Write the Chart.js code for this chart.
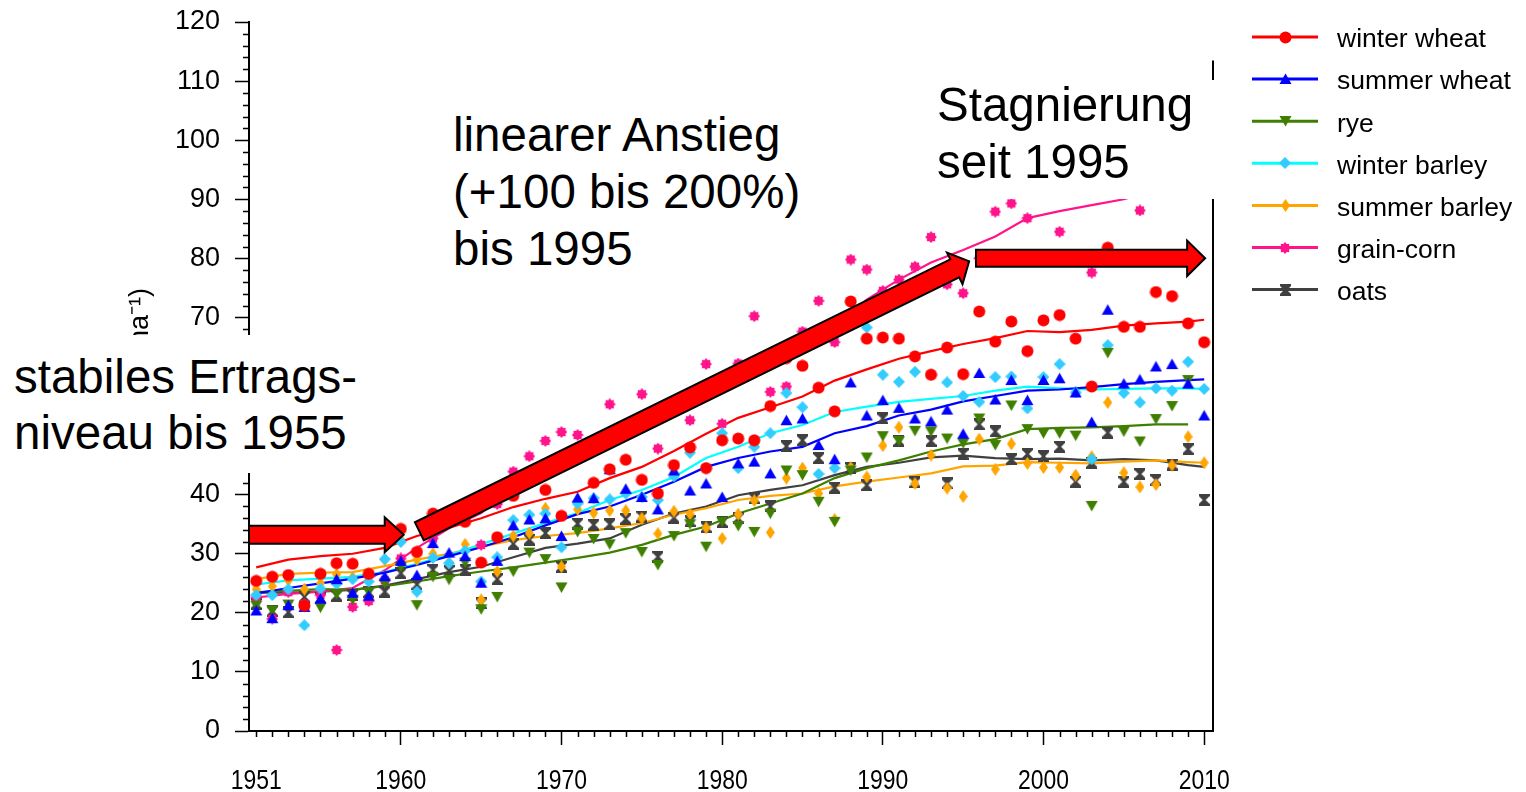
<!DOCTYPE html>
<html>
<head>
<meta charset="utf-8">
<title>Getreideerträge 1951-2010</title>
<script src="https://cdn.jsdelivr.net/npm/chart.js@4.4.1/dist/chart.umd.min.js"></script>
<style>
  html, body { margin: 0; padding: 0; background: #fff; }
  #wrap { position: relative; width: 1526px; height: 792px; overflow: hidden; }
  #chart { position: absolute; left: 0; top: 0; }
  .note {
    position: absolute; box-sizing: border-box; background: #fff; color: #000;
    font-family: 'Liberation Sans', Arial, sans-serif; font-size: 47.5px;
    white-space: nowrap;
  }
  .note .lift { position: relative; top: -4px; }
</style>
</head>
<body>
<div id="wrap">
  <canvas id="chart" width="1526" height="792"></canvas>
  <div class="note" style="left:0;top:335px;width:366px;height:138px;padding:14px 0 0 14px;line-height:56px;">stabiles Ertrags-<br>niveau bis 1955</div>
  <div class="note" style="left:445px;top:95px;width:370px;height:185px;padding:11px 0 0 8px;line-height:57px;">linearer Anstieg<br>(+100 bis 200%)<br>bis 1995</div>
  <div class="note" style="left:925px;top:80px;width:296px;height:119px;padding:0 0 0 12px;line-height:57px;"><div class="lift">Stagnierung<br>seit 1995</div></div>
</div>
<script>
// yields in dt/ha, one value per harvest year
const years = [
  1951, 1952, 1953, 1954, 1955, 1956, 1957, 1958, 1959, 1960,
  1961, 1962, 1963, 1964, 1965, 1966, 1967, 1968, 1969, 1970,
  1971, 1972, 1973, 1974, 1975, 1976, 1977, 1978, 1979, 1980,
  1981, 1982, 1983, 1984, 1985, 1986, 1987, 1988, 1989, 1990,
  1991, 1992, 1993, 1994, 1995, 1996, 1997, 1998, 1999, 2000,
  2001, 2002, 2003, 2004, 2005, 2006, 2007, 2008, 2009, 2010
];

const winterWheat = [
  25.4, 26.1, 26.4, 21.2, 26.6, 28.4, 28.3, 26.6, 33.0, 34.2,
  30.3, 36.8, 36.3, 35.4, 28.5, 32.8, 39.8, 43.0, 40.8, 36.4,
  47.0, 42.0, 44.3, 45.9, 42.5, 40.2, 45.0, 48.0, 44.5, 49.2,
  49.5, 49.2, 55.0, 63.1, 61.8, 58.1, 54.1, 72.7, 66.4, 66.6,
  66.4, 63.4, 60.3, 64.9, 60.4, 71.0, 65.9, 69.3, 64.3, 69.5,
  70.4, 66.4, 58.3, 81.8, 68.4, 68.4, 74.3, 73.6, 69.0, 65.8
];
const summerWheat = [
  20.4, 19.1, 21.3, 21.0, 22.4, 25.7, 23.4, 22.9, 26.2, 28.8,
  26.4, 31.8, 30.2, 29.6, 25.1, 28.8, 34.8, 35.8, 36.0, 33.0,
  39.5, 39.4, 44.3, 41.0, 39.6, 37.5, 44.1, 40.7, 41.9, 39.6,
  45.3, 45.6, 43.6, 52.6, 52.9, 48.4, 46.0, 59.0, 53.4, 56.0,
  54.7, 52.9, 52.4, 54.4, 50.3, 60.6, 56.1, 59.4, 56.0, 59.4,
  59.7, 57.3, 52.3, 71.3, 58.8, 59.5, 61.7, 62.1, 58.8, 53.4
];
const rye = [
  21.2, 20.4, 21.4, 21.0, 20.9, 23.2, 22.2, 23.5, 25.0, 27.8,
  21.3, 26.1, 25.6, 28.5, 20.6, 22.7, 27.0, 30.2, 29.1, 24.3,
  33.7, 32.5, 31.6, 33.5, 30.3, 28.1, 33.0, 35.0, 31.2, 35.4,
  34.7, 33.7, 36.8, 44.1, 43.3, 38.8, 35.4, 44.1, 46.3, 49.9,
  49.1, 50.8, 50.7, 49.5, 48.7, 52.9, 48.4, 55.1, 51.1, 50.4,
  50.4, 50.0, 38.1, 64.0, 50.7, 49.0, 52.8, 55.0, 59.4, null
];
const winterBarley = [
  23.0, 23.0, 24.0, 17.9, 24.1, 24.9, 25.7, 25.3, 29.1, 32.0,
  23.6, 29.3, 28.4, 30.5, 25.3, 29.4, 35.7, 36.6, 36.8, 31.1,
  38.5, 39.4, 39.2, 40.2, 39.6, 39.1, 43.1, 47.1, 44.5, 50.4,
  44.5, 48.1, 50.4, 57.2, 54.8, 43.5, 44.5, 69.5, 68.3, 60.3,
  59.1, 60.8, 60.3, 59.0, 56.7, 55.7, 59.9, 60.0, 54.6, 59.9,
  62.1, 57.3, 46.0, 65.3, 57.2, 55.6, 58.0, 57.6, 62.5, 57.9
];
const summerBarley = [
  24.0, 24.5, 25.5, 24.0, 25.0, 26.5, 26.0, 26.0, 29.0, 32.4,
  29.0, 30.0, 28.5, 31.6, 22.2, 27.0, 33.0, 33.5, 37.7, 27.8,
  37.5, 36.9, 37.3, 37.3, 36.0, 33.4, 37.2, 36.7, 34.4, 32.6,
  36.7, 39.0, 33.6, 42.8, 44.5, 40.2, 35.8, 44.6, 43.0, 48.3,
  51.4, 41.9, 46.7, 41.1, 39.7, 49.4, 44.3, 48.6, 45.3, 44.6,
  44.6, 43.3, 46.4, 55.6, 43.7, 41.3, 41.7, 45.0, 49.8, 45.4
];
const grainCorn = [
  22.6, 19.0, 23.5, 21.5, 23.0, 13.7, 21.0, 22.0, 25.5, 29.2,
  30.3, 32.6, 36.0, 35.7, 31.5, 38.4, 43.9, 46.5, 49.1, 50.6,
  50.1, 48.3, 55.3, 51.0, 57.0, 47.8, 55.0, 52.6, 62.1, 52.0,
  62.2, 70.2, 57.4, 58.3, 67.6, 72.8, 65.8, 79.8, 78.1, 74.5,
  76.4, 78.6, 83.6, 75.6, 74.1, 80.0, 87.9, 89.3, 86.8, 93.0,
  84.5, 95.0, 77.6, 96.5, 93.0, 88.1, 98.0, 101.0, 96.0, 99.0
];
const oats = [
  21.5, 20.3, 20.1, 22.7, 22.5, 22.9, 23.0, 23.5, 23.6, 26.7,
  24.8, 27.3, 27.1, 27.3, 21.6, 25.7, 31.7, 32.4, 33.5, 27.8,
  35.1, 34.9, 35.0, 35.9, 36.3, 29.5, 36.1, 35.5, 34.5, 35.4,
  36.0, 39.4, 38.0, 48.2, 49.2, 46.2, 41.2, 44.5, 41.6, 52.9,
  49.1, 42.1, 49.1, 41.9, 46.9, 51.9, 50.7, 46.0, 46.9, 46.5,
  48.1, 42.2, 45.4, 50.5, 42.2, 43.5, 42.5, 45.1, 47.7, 39.1
];

// smoothed trend curves
const trendYears = [
  1951, 1953, 1955, 1957, 1959, 1961, 1963, 1965, 1967, 1969, 1971,
  1973, 1975, 1977, 1979, 1981, 1983, 1985, 1987, 1989, 1991,
  1993, 1995, 1997, 1999, 2001, 2003, 2005, 2007, 2009, 2010
];
const winterWheatTrend = [
  27.7, 29.0, 29.6, 30.0, 31.0, 33.0, 34.4, 36.0, 37.9, 39.3, 40.5,
  42.8, 44.7, 47.4, 50.3, 53.0, 54.8, 56.6, 59.3, 61.2, 63.0,
  64.3, 65.5, 66.5, 67.7, 67.5, 67.9, 68.6, 69.0, 69.3, 69.6
];
const summerWheatTrend = [
  23.3, 24.2, 25.0, 25.8, 26.8, 28.1, 29.6, 31.1, 32.8, 34.8, 36.7,
  38.0, 40.0, 42.2, 44.7, 46.2, 47.3, 48.1, 50.4, 51.6, 53.4,
  54.4, 55.8, 56.7, 57.6, 57.8, 58.2, 58.7, 59.1, 59.4, 59.5
];
const ryeTrend = [
  23.5, 23.7, 24.0, 23.9, 24.5, 25.3, 26.2, 27.0, 27.7, 28.5, 29.3,
  30.2, 31.5, 33.2, 34.6, 36.8, 38.5, 40.2, 42.8, 44.5, 45.8,
  47.3, 48.5, 49.4, 51.1, 51.3, 51.4, 51.6, 51.9, 51.9, null
];
const winterBarleyTrend = [
  24.8, 25.5, 25.8, 26.1, 26.9, 28.3, 29.8, 31.6, 33.4, 35.2, 36.9,
  39.1, 40.8, 43.0, 46.2, 48.1, 50.4, 51.8, 54.0, 54.9, 55.7,
  56.2, 56.7, 57.6, 58.3, 58.0, 57.8, 57.9, 58.0, 58.0, 57.9
];
const summerBarleyTrend = [
  25.7, 26.6, 26.8, 26.9, 27.9, 29.0, 30.0, 31.2, 32.3, 33.0, 33.5,
  34.3, 35.2, 36.6, 37.7, 39.1, 39.8, 40.2, 41.4, 42.2, 42.9,
  43.6, 44.8, 44.9, 45.5, 45.4, 45.3, 45.6, 45.8, 45.5, 45.4
];
const grainCornTrend = [
  22.6, 23.2, 23.6, 24.2, 27.2, 31.0, 34.3, 36.9, 41.5, 44.2, 47.0,
  49.7, 52.4, 55.0, 57.8, 60.3, 63.0, 65.6, 68.5, 73.0, 76.4,
  79.3, 81.4, 83.7, 86.8, 88.0, 89.0, 90.0, 91.5, 92.5, 93.0
];
const oatsTrend = [
  23.4, 23.4, 23.6, 23.9, 24.6, 25.7, 26.9, 27.8, 29.4, 31.0, 31.7,
  32.6, 34.9, 36.8, 38.0, 39.9, 40.8, 41.6, 43.3, 44.7, 45.4,
  46.3, 46.6, 46.2, 46.0, 46.1, 45.8, 46.0, 45.8, 45.0, 44.7
];

const xTickYears = [1951, 1960, 1970, 1980, 1990, 2000, 2010];

// arrow annotations, ends given as [year, yield]
const arrows = [
  { from: [1950.55, 33.2], to: [1960.18, 33.2], shaft: 9, head: 17.5, headLen: 19 },
  { from: [1961.15, 33.8], to: [1995.37, 79.5], shaft: 10, head: 17.6, headLen: 16 },
  { from: [1995.8, 80.0], to: [2010.06, 80.0], shaft: 8.5, head: 17.7, headLen: 18 }
];

// the right frame line starts a little below the top of the value range
const frameTopValue = 113.5;

const FONT = "'Liberation Sans', Arial, sans-serif";

// small bitmap markers
function makeMarker(w, h, color, path) {
  const c = document.createElement('canvas');
  c.width = w; c.height = h;
  const g = c.getContext('2d');
  g.fillStyle = color;
  g.beginPath();
  path(g);
  g.closePath();
  g.fill();
  return c;
}
function poly(pts) {
  return g => {
    g.moveTo(pts[0][0], pts[0][1]);
    for (let i = 1; i < pts.length; i++) g.lineTo(pts[i][0], pts[i][1]);
  };
}
function starPath(g) {
  for (let i = 0; i < 16; i++) {
    const r = i % 2 ? 4.4 : 5.9;
    const a = i * Math.PI / 8;
    const px = 6 + r * Math.cos(a), py = 6 + r * Math.sin(a);
    if (i === 0) g.moveTo(px, py); else g.lineTo(px, py);
  }
}

const series = [
  { label: 'winter wheat', values: winterWheat, trend: winterWheatTrend, color: '#ff0000',
    marker: makeMarker(13, 13, '#ff0000', g => g.arc(6.5, 6.5, 6, 0, Math.PI * 2)) },
  { label: 'summer wheat', values: summerWheat, trend: summerWheatTrend, color: '#0000ff',
    marker: makeMarker(13, 12, '#0000ff', poly([[6.5, 0.5], [12.5, 11], [0.5, 11]])) },
  { label: 'rye', values: rye, trend: ryeTrend, color: '#3f7f00',
    marker: makeMarker(13, 12, '#3f7f00', poly([[0.5, 1], [12.5, 1], [6.5, 11.5]])) },
  { label: 'winter barley', values: winterBarley, trend: winterBarleyTrend, color: '#00ffff',
    marker: makeMarker(12, 12, '#33ccff', poly([[6, 0], [12, 6], [6, 12], [0, 6]])) },
  { label: 'summer barley', values: summerBarley, trend: summerBarleyTrend, color: '#ffa500',
    marker: makeMarker(9, 13, '#ffa500', poly([[4.5, 0], [9, 6.5], [4.5, 13], [0, 6.5]])) },
  { label: 'grain-corn', values: grainCorn, trend: grainCornTrend, color: '#ff148c',
    marker: makeMarker(12, 12, '#ff148c', starPath) },
  { label: 'oats', values: oats, trend: oatsTrend, color: '#404040',
    marker: makeMarker(11, 12, '#404040', poly([[0, 0], [11, 0], [11, 2], [7, 6], [11, 10], [11, 12], [0, 12], [0, 10], [4, 6], [0, 2]])) }
];

function pairs(xs, ys) {
  return xs.map((x, i) => ({ x: x, y: ys[i] }));
}

const datasets = [];
series.forEach(s => {
  datasets.push({
    label: s.label,
    data: pairs(years, s.values),
    showLine: false,
    pointStyle: s.marker,
    pointRadius: 5,
    pointHoverRadius: 5,
    order: 1
  });
});
series.forEach(s => {
  datasets.push({
    label: s.label + ' trend',
    data: pairs(trendYears, s.trend),
    showLine: true,
    borderColor: s.color,
    borderWidth: 2.2,
    pointRadius: 0,
    tension: 0,
    spanGaps: false,
    order: 2
  });
});

function drawArrow(ctx, x0, y0, x1, y1, shaft, head, headLen) {
  const dx = x1 - x0, dy = y1 - y0;
  const len = Math.hypot(dx, dy);
  const ux = dx / len, uy = dy / len;
  const nx = -uy, ny = ux;
  const bx = x1 - ux * headLen, by = y1 - uy * headLen;
  const p = (cx, cy, k) => [cx + nx * k, cy + ny * k];
  const pts = [
    p(x0, y0, shaft), p(bx, by, shaft), p(bx, by, head),
    [x1, y1],
    p(bx, by, -head), p(bx, by, -shaft), p(x0, y0, -shaft)
  ];
  ctx.beginPath();
  ctx.moveTo(pts[0][0], pts[0][1]);
  for (let i = 1; i < pts.length; i++) ctx.lineTo(pts[i][0], pts[i][1]);
  ctx.closePath();
  ctx.fillStyle = '#ff0000';
  ctx.fill();
  ctx.lineWidth = 2;
  ctx.lineJoin = 'miter';
  ctx.strokeStyle = '#000';
  ctx.stroke();
}

const arrowPlugin = {
  id: 'arrows',
  afterDatasetsDraw(chart) {
    const { ctx, scales: { x, y } } = chart;
    ctx.save();
    arrows.forEach(a => {
      drawArrow(ctx,
        x.getPixelForValue(a.from[0]), y.getPixelForValue(a.from[1]),
        x.getPixelForValue(a.to[0]), y.getPixelForValue(a.to[1]),
        a.shaft, a.head, a.headLen);
    });
    ctx.restore();
  }
};

// minor ticks, narrow year labels and the right-hand frame line
const framePlugin = {
  id: 'frame',
  afterDraw(chart) {
    const { ctx, chartArea: area, scales: { x, y } } = chart;
    ctx.save();
    ctx.strokeStyle = '#000';
    ctx.lineWidth = 1.5;
    ctx.beginPath();
    for (let v = 0; v <= 120; v += 2) {
      if (v % 10 === 0) continue;
      const py = Math.round(y.getPixelForValue(v)) + 0.5;
      ctx.moveTo(area.left, py);
      ctx.lineTo(area.left - 6, py);
    }
    years.forEach(yr => {
      if (yr % 10 === 0) return;
      const px = Math.round(x.getPixelForValue(yr)) + 0.5;
      ctx.moveTo(px, area.bottom);
      ctx.lineTo(px, area.bottom + 6);
    });
    ctx.stroke();
    ctx.lineWidth = 2;
    ctx.beginPath();
    ctx.moveTo(area.right, y.getPixelForValue(frameTopValue));
    ctx.lineTo(area.right, area.bottom + 1);
    ctx.stroke();

    ctx.fillStyle = '#000';
    ctx.font = '27px ' + FONT;
    ctx.textAlign = 'center';
    ctx.textBaseline = 'alphabetic';
    x.ticks.forEach(t => {
      ctx.save();
      ctx.translate(x.getPixelForValue(t.value), area.bottom + 58);
      ctx.scale(0.85, 1);
      ctx.fillText(String(t.value), 0, 0);
      ctx.restore();
    });
    ctx.restore();
  }
};

const legendPlugin = {
  id: 'sideLegend',
  afterDraw(chart) {
    const ctx = chart.ctx;
    ctx.save();
    ctx.font = '26.5px ' + FONT;
    ctx.fillStyle = '#000';
    ctx.textBaseline = 'alphabetic';
    series.forEach((s, i) => {
      const rowY = 37 + i * 42.1;
      ctx.strokeStyle = s.color;
      ctx.lineWidth = 3;
      ctx.beginPath();
      ctx.moveTo(1252, rowY);
      ctx.lineTo(1318, rowY);
      ctx.stroke();
      ctx.drawImage(s.marker, Math.round(1285 - s.marker.width / 2), Math.round(rowY - s.marker.height / 2));
      ctx.fillText(s.label, 1337, rowY + 10.3);
    });
    ctx.restore();
  }
};

Chart.defaults.font.family = FONT;
Chart.defaults.color = '#000';

new Chart(document.getElementById('chart'), {
  type: 'scatter',
  data: { datasets: datasets },
  plugins: [arrowPlugin, framePlugin, legendPlugin],
  options: {
    responsive: false,
    devicePixelRatio: 1,
    animation: false,
    events: [],
    layout: { padding: { left: 0, top: 22, right: 313, bottom: 0 } },
    plugins: {
      legend: { display: false },
      tooltip: { enabled: false }
    },
    scales: {
      x: {
        type: 'linear',
        min: 1950.55,
        max: 2010.55,
        afterBuildTicks: s => { s.ticks = xTickYears.map(v => ({ value: v })); },
        afterFit: s => { s.height = 61; s.paddingLeft = 0; s.paddingRight = 0; },
        ticks: { display: false },
        grid: {
          drawOnChartArea: false,
          tickLength: 14,
          tickWidth: 1.5,
          tickColor: c => (c.tick && c.tick.value === 1951 ? 'rgba(0,0,0,0)' : '#000')
        },
        border: { color: '#000', width: 2 }
      },
      y: {
        min: 0,
        max: 120,
        afterFit: s => { s.width = 249; s.paddingTop = 0; s.paddingBottom = 0; },
        ticks: { stepSize: 10, padding: 15, color: '#000', font: { size: 27 } },
        grid: { drawOnChartArea: false, tickLength: 14, tickWidth: 1.5, tickColor: '#000' },
        border: { color: '#000', width: 2 },
        title: {
          display: true,
          text: 'Ertrag (dt ha⁻¹)',
          color: '#000',
          font: { size: 27 },
          padding: { top: 124, bottom: 0 }
        }
      }
    }
  }
});
</script>
</body>
</html>
